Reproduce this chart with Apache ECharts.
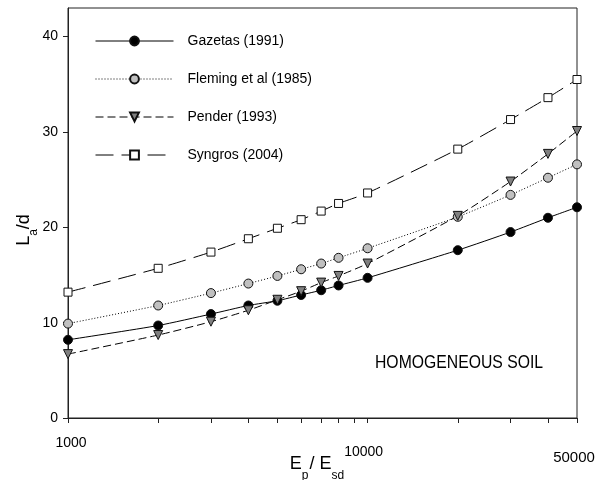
<!DOCTYPE html>
<html>
<head>
<meta charset="utf-8">
<script src="https://cdn.jsdelivr.net/npm/echarts@6/dist/echarts.min.js"></script>
<style>
  html, body { margin: 0; padding: 0; background: #fff; }
  #chart { width: 607px; height: 480px; }
</style>
</head>
<body>
<div id="chart"></div>
<script>
// E_p / E_sd ratios
var ratios = [1000, 2000, 3000, 4000, 5000, 6000, 7000, 8000, 10000, 20000, 30000, 40000, 50000];
// L_a / d values
var gazetas = [8.2, 9.7, 10.9, 11.8, 12.3, 12.9, 13.4, 13.9, 14.7, 17.6, 19.5, 21.0, 22.1];
var fleming = [9.9, 11.8, 13.1, 14.1, 14.9, 15.6, 16.2, 16.8, 17.8, 21.1, 23.4, 25.2, 26.6];
var pender  = [6.7, 8.7, 10.1, 11.3, 12.4, 13.3, 14.2, 14.9, 16.2, 21.2, 24.8, 27.7, 30.1];
var syngros = [13.2, 15.7, 17.4, 18.8, 19.9, 20.8, 21.7, 22.5, 23.6, 28.2, 31.3, 33.6, 35.5];
var seriesNames = ['Gazetas (1991)', 'Fleming et al (1985)', 'Pender (1993)', 'Syngros (2004)'];
var xTicks = [1000, 2000, 3000, 4000, 5000, 6000, 7000, 8000, 9000, 10000, 20000, 30000, 40000, 50000];
var xLabels = [1000, 10000, 50000];
var yTicks = [0, 10, 20, 30, 40];

var font = '"Liberation Sans", Arial, sans-serif';

var pairs = function (ys) {
    var res = [];
    for (var i = 0; i < ratios.length; i++) {
        res.push([ratios[i], ys[i]]);
    }
    return res;
};

var chart = echarts.init(document.getElementById('chart'));

var makeSeries = function (name, ys, symbol, fill, dash) {
    return {
        name: name,
        type: 'line',
        data: pairs(ys),
        smooth: 0.2,
        symbol: symbol,
        symbolSize: symbol == 'rect' ? 8 : 9,
        symbolRotate: symbol == 'triangle' ? 180 : 0,
        lineStyle: { color: '#000', width: 1, type: dash },
        itemStyle: { color: fill, borderColor: '#111', borderWidth: 1 },
        emphasis: { disabled: true }
    };
};

option = {
    animation: false,
    backgroundColor: '#fff',
    grid: {
        left: 68, right: 30, top: 8, bottom: 62,
        outerBoundsMode: 'none',
        show: true, borderColor: '#222', borderWidth: 1
    },
    legend: {
        orient: 'vertical',
        left: 90,
        top: 29,
        itemWidth: 78,
        itemHeight: 11,
        itemGap: 24,
        data: seriesNames,
        lineStyle: { width: 1 },
        textStyle: { fontFamily: font, fontSize: 14, color: '#000', padding: [0, 0, 0, 9] }
    },
    xAxis: [{
        type: 'log',
        logBase: 10,
        min: 1000,
        max: 50000,
        name: '{m|E}{s|p}{m|/ E}{s|sd}',
        nameLocation: 'middle',
        nameGap: 37,
        nameMoveOverlap: false,
        nameTextStyle: {
            padding: [0, 10, 0, 0],
            rich: {
                m: { fontFamily: font, fontSize: 18, color: '#000', lineHeight: 24, verticalAlign: 'top' },
                s: { fontFamily: font, fontSize: 12, color: '#000', lineHeight: 12, padding: [15, 1, 0, 0], verticalAlign: 'top' }
            }
        },
        axisLine: { lineStyle: { color: '#222', width: 1 } },
        axisTick: { show: false },
        minorTick: { show: false },
        splitLine: { show: false },
        axisLabel: {
            customValues: xLabels,
            margin: 11,
            formatter: function (v) {
                if (v == 1000) return '{a|1000}';
                if (v == 10000) return '{b|10000}';
                return '{c|50000}';
            },
            rich: {
                a: { fontFamily: font, fontSize: 14, color: '#000', padding: [7, 0, 0, 6] },
                b: { fontFamily: font, fontSize: 14, color: '#000', padding: [16, 8, 0, 0] },
                c: { fontFamily: font, fontSize: 15, color: '#000', padding: [21, 6, 0, 0] }
            }
        }
    }, {
        // tick marks only, laid out in log10 units on the same span
        type: 'value',
        position: 'bottom',
        offset: 0,
        min: Math.log10(1000),
        max: Math.log10(50000),
        axisLine: { show: false },
        axisLabel: { show: false },
        splitLine: { show: false },
        axisTick: { show: true, length: 5, customValues: xTicks.map(function (v) { return Math.log10(v); }), lineStyle: { color: '#222' } }
    }],
    yAxis: {
        type: 'value',
        min: 0,
        max: 43,
        interval: 10,
        name: '{m|L}{s|a}{m|/d}',
        nameLocation: 'middle',
        nameGap: 31,
        nameMoveOverlap: false,
        nameTextStyle: {
            padding: [0, 34, 0, 0],
            rich: {
                m: { fontFamily: font, fontSize: 18, color: '#000', lineHeight: 22, verticalAlign: 'top' },
                s: { fontFamily: font, fontSize: 12, color: '#000', lineHeight: 12, padding: [13, 0, 0, 0], verticalAlign: 'top' }
            }
        },
        axisLine: { show: true, lineStyle: { color: '#222', width: 1 } },
        axisTick: { show: true, length: 5, customValues: yTicks, lineStyle: { color: '#222' } },
        splitLine: { show: false },
        axisLabel: {
            customValues: yTicks,
            margin: 10,
            fontFamily: font,
            fontSize: 14,
            color: '#000'
        }
    },
    graphic: [{
        type: 'text',
        left: 375,
        top: 354,
        scaleX: 0.875,
        style: {
            text: 'HOMOGENEOUS SOIL',
            font: '18px "Liberation Sans", Arial, sans-serif',
            fill: '#000'
        }
    }],
    series: [
        makeSeries(seriesNames[0], gazetas, 'circle', '#000', 'solid'),
        makeSeries(seriesNames[1], fleming, 'circle', '#c0c0c0', [1, 2]),
        makeSeries(seriesNames[2], pender, 'triangle', '#808080', [8, 4]),
        makeSeries(seriesNames[3], syngros, 'rect', '#fff', [18, 8])
    ]
};

chart.setOption(option);
</script>
</body>
</html>
